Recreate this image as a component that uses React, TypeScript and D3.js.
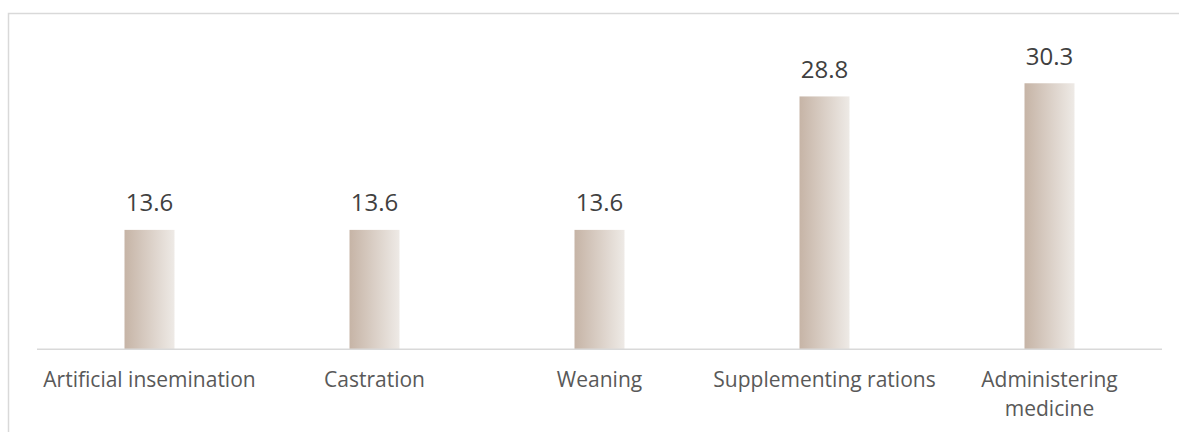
import React from "react";
import * as d3 from "d3";

const categories: string[][] = [
  ["Artificial insemination"],
  ["Castration"],
  ["Weaning"],
  ["Supplementing rations"],
  ["Administering", "medicine"],
];
const values: number[] = [13.6, 13.6, 13.6, 28.8, 30.3];

const W = 1179;
const H = 432;
const left = 37;
const right = 1162;
const baseY = 349.3;
const font = "'Open Sans', 'Noto Sans', sans-serif";

export default function App() {
  const x = d3
    .scaleBand<number>()
    .domain(values.map((_, i) => i))
    .range([left, right])
    .paddingInner(0.7778)
    .paddingOuter(0.3889);
  const y = d3.scaleLinear().domain([0, 35]).range([baseY, baseY - 35 * 8.78]);

  return (
    <svg
      width={W}
      height={H}
      style={{ position: "absolute", left: 0, top: 0, display: "block" }}
    >
      <defs>
        <linearGradient id="barFill" x1="0" x2="1" y1="0" y2="0">
          <stop offset="0%" stopColor="#c6b4a6" />
          <stop offset="100%" stopColor="#eeeae6" />
        </linearGradient>
      </defs>
      <rect x={0} y={0} width={W} height={H} fill="#fff" />
      <rect
        x={8.5}
        y={13.5}
        width={W + 10}
        height={H + 10}
        fill="none"
        stroke="#d9d9d9"
        strokeWidth={1.5}
      />
      {values.map((v, i) => (
        <rect
          key={"b" + i}
          x={x(i)}
          y={y(v)}
          width={x.bandwidth()}
          height={baseY - y(v)}
          fill="url(#barFill)"
        />
      ))}
      <line
        x1={left}
        x2={right}
        y1={baseY}
        y2={baseY}
        stroke="#d9d9d9"
        strokeWidth={1.5}
      />
      {values.map((v, i) => (
        <text
          key={"v" + i}
          x={(x(i) as number) + x.bandwidth() / 2}
          y={y(v) - 18.5}
          textAnchor="middle"
          fontFamily={font}
          fontSize={24}
          fill="#404040"
        >
          {v.toFixed(1)}
        </text>
      ))}
      {categories.map((lines, i) => (
        <text
          key={"c" + i}
          x={(x(i) as number) + x.bandwidth() / 2}
          y={387}
          textAnchor="middle"
          fontFamily={font}
          fontSize={21}
          fill="#595959"
        >
          {lines.map((l, j) => (
            <tspan
              key={j}
              x={(x(i) as number) + x.bandwidth() / 2}
              dy={j === 0 ? 0 : 29}
            >
              {l}
            </tspan>
          ))}
        </text>
      ))}
    </svg>
  );
}
